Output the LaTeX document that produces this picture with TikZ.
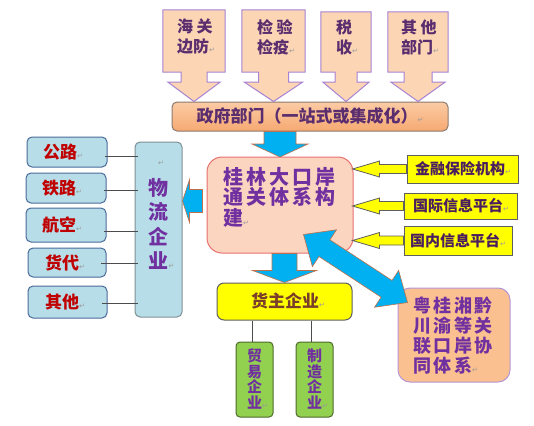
\documentclass[tikz,border=0pt]{standalone}
\usepackage{fontspec}
\setmainfont{Noto Sans CJK SC}
\newfontfamily\djv{DejaVu Sans}
\usetikzlibrary{calc,backgrounds}
\definecolor{peach}{HTML}{FCD5B5}
\definecolor{callb}{HTML}{A883D3}
\definecolor{govtop}{HTML}{FBCBA4}
\definecolor{govbot}{HTML}{F6A972}
\definecolor{govb}{HTML}{8C7B70}
\definecolor{govt}{HTML}{5A2D6E}
\definecolor{corefill}{HTML}{FBD5C0}
\definecolor{coreb}{HTML}{E87070}
\definecolor{purp}{HTML}{7030A0}
\definecolor{yel}{HTML}{FFFF00}
\definecolor{yelb}{HTML}{5F5F5F}
\definecolor{yelt}{HTML}{4A1E5E}
\definecolor{hzt}{HTML}{7A3E2A}
\definecolor{grn}{HTML}{92D050}
\definecolor{grnb}{HTML}{4E6A2A}
\definecolor{orng}{HTML}{FAC090}
\definecolor{orngb}{HTML}{B596D6}
\definecolor{ltblue}{HTML}{B7DEE8}
\definecolor{wlb}{HTML}{7F8F94}
\definecolor{smb}{HTML}{4A6A9A}
\definecolor{redt}{HTML}{C00000}
\definecolor{blu}{HTML}{00B0F0}
\definecolor{blub}{HTML}{C0704A}
\newcommand\ret{{\djv\mdseries\fontsize{7}{7}\selectfont\textcolor{black!40}{↵}}}
\newcommand\fs[2]{\fontsize{#1}{#2}\selectfont}
\newcommand\calloutshape[4]{%
  \path[calloutbox] (#1.north west) -- (#1.north east) -- (#1.south east)
    -- ($(#1.south)+(#2,0)$) -- ($(#1.south)+(#2,#4)$) -- ($(#1.south)+(#3,#4)$)
    -- (#1.south |- gov.north)
    -- ($(#1.south)+(-#3,#4)$) -- ($(#1.south)+(-#2,#4)$) -- ($(#1.south)+(-#2,0)$)
    -- (#1.south west) -- cycle;}
\newcommand\sarrow[6]{%
  \coordinate (tmpH) at ($(#3)!#6!(#2)$);
  \path[#1] ($(#2)!#4!90:(#3)$) -- ($(tmpH)!#4!90:(#3)$) -- ($(tmpH)!#5!90:(#3)$)
    -- (#3) -- ($(tmpH)!#5!-90:(#3)$) -- ($(tmpH)!#4!-90:(#3)$)
    -- ($(#2)!#4!-90:(#3)$) -- cycle;}
\newcommand\darrow[6]{%
  \coordinate (tmpP) at ($(#2)!#6!(#3)$);
  \coordinate (tmpQ) at ($(#3)!#6!(#2)$);
  \path[#1] (#2) -- ($(tmpP)!#5!90:(#3)$) -- ($(tmpP)!#4!90:(#3)$)
    -- ($(tmpQ)!#4!90:(#3)$) -- ($(tmpQ)!#5!90:(#3)$) -- (#3)
    -- ($(tmpQ)!#5!-90:(#3)$) -- ($(tmpQ)!#4!-90:(#3)$)
    -- ($(tmpP)!#4!-90:(#3)$) -- ($(tmpP)!#5!-90:(#3)$) -- cycle;}
\tikzset{
  calloutbox/.style={fill=peach, draw=callb, line width=1pt, line join=miter},
  govbox/.style={rounded corners=5pt, top color=govtop, bottom color=govbot, draw=govb, line width=1pt},
  corebox/.style={rounded corners=15pt, fill=corefill, draw=coreb, line width=1pt},
  yelbox/.style={fill=yel, draw=yelb, line width=1pt},
  hzbox/.style={rounded corners=7pt, fill=yel, draw=yelb, line width=1pt},
  grnbox/.style={rounded corners=4pt, fill=grn, draw=grnb, line width=1pt},
  orbox/.style={rounded corners=12pt, fill=orng, draw=orngb, line width=1pt},
  wlbox/.style={rounded corners=5pt, fill=ltblue, draw=wlb, line width=1pt},
  smbox/.style={rounded corners=5pt, fill=ltblue, draw=smb, line width=1pt},
  bluearrow/.style={fill=blu, draw=blub, line width=0.6pt, line join=miter},
  yelarrow/.style={fill=yel, draw=yelb, line width=0.8pt, line join=miter},
  conn/.style={draw=black!70, line width=0.8pt},
  txt/.style 2 args={inner sep=0, font=\bfseries\fs{#1}{#2}},
  spaced/.style={font=\bfseries\fs{#1}{#1}\addfontfeature{LetterSpace=14}}
}
\begin{document}
\begin{tikzpicture}[x=1pt, y=-1pt]
\useasboundingbox (0,0) rectangle (534,425);
\fill[white] (0,0) rectangle (534,425);

% government bar
\node[govbox, minimum width=276pt, minimum height=29pt] (gov) at (310,116.5) {};
\node[txt={17}{20}, text=govt] (govT) at (310,116.5) {政府部门（一站式或集成化）\ret};

% top callouts
\node[inner sep=0, minimum width=62pt, minimum height=62pt] (hg) at (194,41) {};
\node[inner sep=0, minimum width=63pt, minimum height=62pt] (jy) at (273.5,41) {};
\node[inner sep=0, minimum width=50pt, minimum height=60pt] (sh) at (346,42) {};
\node[inner sep=0, minimum width=60pt, minimum height=60pt] (qt) at (418,42) {};
\calloutshape{hg}{13}{26}{10}
\calloutshape{jy}{15}{29}{10}
\calloutshape{sh}{11}{23}{10}
\calloutshape{qt}{14}{27}{10}
\node[txt={16}{20}, text=govt, align=left] (hgT) at (196,37) {海 关\\边防\ret};
\node[txt={16}{20}, text=govt, align=left] (jyT) at (276,37) {检 验\\检疫\ret};
\node[txt={16}{20}, text=govt, align=left] (shT) at (347,37) {税\\收\ret};
\node[txt={16}{20}, text=govt, align=left] (qtT) at (420,37) {其 他\\部门\ret};

% core
\node[corebox, minimum width=146pt, minimum height=96pt] (core) at (280,205) {};
\node[inner sep=0, text=purp, align=left, anchor=north west, font=\bfseries\fs{20}{20.5}\addfontfeature{LetterSpace=15}] (coreT) at (223,167) {桂林大口岸\\通关体系构\\建\ret};

% right yellow boxes
\node[yelbox, minimum width=111pt, minimum height=28pt] (jr) at (462.5,169) {};
\node[yelbox, minimum width=113pt, minimum height=26pt] (gj) at (460.5,206) {};
\node[yelbox, minimum width=108pt, minimum height=29pt] (gn) at (458,240.5) {};
\node[txt={15}{18}, text=yelt] (jrT) at (463,169) {金融保险机构\ret};
\node[txt={15}{18}, text=yelt] (gjT) at (461,206) {国际信息平台\ret};
\node[txt={15}{18}, text=yelt] (gnT) at (458,240.5) {国内信息平台\ret};

% owner enterprises
\node[hzbox, minimum width=135pt, minimum height=37pt] (hz) at (284.5,301.5) {};
\node[txt={17}{20}, text=hzt] (hzT) at (288,301) {货主企业\ret};
\node[grnbox, minimum width=37pt, minimum height=75pt] (my) at (254.5,379.5) {};
\node[grnbox, minimum width=37pt, minimum height=75pt] (zz) at (314.5,379.5) {};
\node[txt={15}{15.5}, text=purp, align=center] (myT) at (254.5,379) {贸\\易\\企\\业\rlap{\ret}};
\node[txt={15}{15.5}, text=purp, align=center] (zzT) at (314.5,379) {制\\造\\企\\业\rlap{\ret}};
\draw[conn] ($(hz.south)+(-32.5,0)$) coordinate (c1) -- (c1 |- my.north);
\draw[conn] ($(hz.south)+(26.5,0)$) coordinate (c2) -- (c2 |- zz.north);

% regional box
\node[orbox, minimum width=112pt, minimum height=94pt] (ygx) at (454,335) {};
\node[inner sep=0, text=purp, align=left, anchor=north west, font=\bfseries\fs{18}{19.8}\addfontfeature{LetterSpace=14}] (ygxT) at (413,297) {粤桂湘黔\\川渝等关\\联口岸协\\同体系\ret};

% logistics
\node[wlbox, minimum width=47pt, minimum height=175pt] (wl) at (158.5,229.5) {};
\node[txt={7}{7}] (wlR) at (161,163) {\ret};
\node[txt={20}{24.5}, text=purp, align=center] (wlT) at (158.5,224) {物\\流\\企\\业\rlap{\ret}};
\node[smbox, minimum width=80pt, minimum height=30pt] (gl) at (67,152) {};
\node[smbox, minimum width=80pt, minimum height=30pt] (tl) at (66,188) {};
\node[smbox, minimum width=80pt, minimum height=34pt] (hk) at (66,225) {};
\node[smbox, minimum width=78pt, minimum height=29pt] (hd) at (67,262.5) {};
\node[smbox, minimum width=79pt, minimum height=32pt] (qo) at (67.5,302) {};
\node[txt={17}{20}, text=redt] (glT) at (63,152) {公路\ret};
\node[txt={17}{20}, text=redt] (tlT) at (62,188) {铁路\ret};
\node[txt={17}{20}, text=redt] (hkT) at (62,225) {航空\ret};
\node[txt={17}{20}, text=redt] (hdT) at (65,262.5) {货代\ret};
\node[txt={17}{20}, text=redt] (qoT) at (65,302) {其他\ret};
\draw[conn] ($(gl.east)+(-3,4)$) coordinate (l1) -- ($(l1 -| wl.west)+(3,0)$);
\draw[conn] ($(tl.east)+(-3,2)$) coordinate (l2) -- ($(l2 -| wl.west)+(3,0)$);
\draw[conn] ($(hk.east)+(-3,6)$) coordinate (l3) -- ($(l3 -| wl.west)+(3,0)$);
\draw[conn] ($(hd.east)+(-6,0.5)$) coordinate (l4) -- ($(l4 -| wl.west)+(3,0)$);
\draw[conn] ($(qo.east)+(-6,1)$) coordinate (l5) -- ($(l5 -| wl.west)+(3,0)$);

% blue arrows
\coordinate (a1s) at (gov.south -| core.north);
\coordinate (a1e) at ($(core.north)+(0,0.5)$);
\sarrow{bluearrow}{a1s}{a1e}{16pt}{28pt}{13pt}
\coordinate (a2s) at (core.south -| hz.north);
\coordinate (a2e) at (hz.north);
\sarrow{bluearrow}{a2s}{a2e}{12.5pt}{32pt}{12pt}
\coordinate (a3s) at ($(core.west)+(-4,-4)$);
\coordinate (a3e) at (wl.east |- a3s);
\sarrow{bluearrow}{a3s}{a3e}{11.5pt}{21.5pt}{7pt}
\coordinate (dA) at ($(core.south east)+(-50,-19)$);
\coordinate (dB) at ($(ygx.north west)+(10,15)$);
\darrow{bluearrow}{dA}{dB}{10pt}{22pt}{25pt}

% yellow arrows
\coordinate (y1s) at (jr.west);
\coordinate (y1e) at ($(core.east |- jr.west)+(-1,0)$);
\sarrow{yelarrow}{y1s}{y1e}{4.5pt}{8pt}{27pt}
\coordinate (y2s) at (gj.west);
\coordinate (y2e) at ($(core.east |- gj.west)+(-1,0)$);
\sarrow{yelarrow}{y2s}{y2e}{4.5pt}{8pt}{27pt}
\coordinate (y3s) at (gn.west);
\coordinate (y3e) at ($(core.east |- gn.west)+(-1,0)$);
\sarrow{yelarrow}{y3s}{y3e}{4.5pt}{8pt}{27pt}
\end{tikzpicture}
\end{document}
